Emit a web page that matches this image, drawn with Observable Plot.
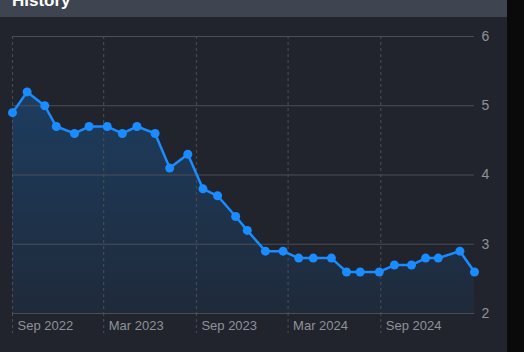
<!DOCTYPE html>
<html>
<head>
<meta charset="utf-8">
<script src="https://cdn.jsdelivr.net/npm/d3@7"></script>
<script src="https://cdn.jsdelivr.net/npm/@observablehq/plot@0.6"></script>
<style>
  html, body { margin: 0; padding: 0; background: #0a0a0a; width: 524px; height: 352px; overflow: hidden; }
  #wrap { position: absolute; left: 0; top: 0; width: 507px; height: 352px; background: #21242c; }
  #header { position: absolute; left: 0; top: 0; width: 507px; height: 17px; background: #3e4550; overflow: hidden; }
  #title { position: absolute; left: 12px; top: -9px; font: bold 17px "Liberation Sans", "DejaVu Sans", sans-serif; color: #ffffff; line-height: 20px; }
  #chart { position: absolute; left: 0; top: 17px; }
</style>
</head>
<body>
<div id="wrap">
  <div id="header"><div id="title">History</div></div>
  <div id="chart"></div>
</div>
<script>
const dates = ["2022-09-01","2022-09-30","2022-11-04","2022-11-27","2023-01-02","2023-01-31","2023-03-08","2023-04-07","2023-05-06","2023-06-11","2023-07-10","2023-08-15","2023-09-14","2023-10-13","2023-11-18","2023-12-11","2024-01-16","2024-02-20","2024-03-22","2024-04-20","2024-05-26","2024-06-25","2024-07-22","2024-08-29","2024-09-28","2024-11-01","2024-11-29","2024-12-24","2025-02-05","2025-03-06"];
const values = [4.9,5.2,5.0,4.7,4.6,4.7,4.7,4.6,4.7,4.6,4.1,4.3,3.8,3.7,3.4,3.2,2.9,2.9,2.8,2.8,2.8,2.6,2.6,2.6,2.7,2.7,2.8,2.8,2.9,2.6];
const xTicks = ["2022-09-01","2023-03-01","2023-09-01","2024-03-01","2024-09-01"];
const xTickLabels = ["Sep 2022","Mar 2023","Sep 2023","Mar 2024","Sep 2024"];
const yTicks = [2,3,4,5,6];

const data = dates.map((d, i) => ({date: new Date(d + "T00:00:00Z"), value: values[i]}));
const tickDates = xTicks.map(d => new Date(d + "T00:00:00Z"));
const labelOf = new Map(tickDates.map((d, i) => [+d, xTickLabels[i]]));

const fontFamily = '"Liberation Sans", "DejaVu Sans", sans-serif';

const plot = Plot.plot({
  width: 507,
  height: 335,
  marginLeft: 12,
  marginRight: 33,
  marginTop: 19,
  marginBottom: 39,
  style: {background: "transparent", fontFamily, fontSize: "13px", color: "#8e9299"},
  x: {type: "utc", domain: [tickDates[0], new Date("2025-03-06T00:00:00Z")]},
  y: {domain: [2, 6]},
  marks: [
    Plot.areaY(data, {x: "date", y1: 2, y2: "value", fill: "url(#areaGrad)", curve: "linear"}),
    Plot.gridY(yTicks, {stroke: "#4a4f57", strokeOpacity: 1, strokeWidth: 1}),
    Plot.gridX(tickDates, {stroke: "#4a4f57", strokeOpacity: 1, strokeDasharray: "3,3"}),
    Plot.axisX(tickDates, {tickSize: 20, stroke: "#4a4f57", strokeDasharray: "3,3", text: null, label: null}),
    Plot.axisX(tickDates, {tickSize: 0, tickPadding: 7, textAnchor: "start", dx: 5, tickFormat: d => labelOf.get(+d), fill: "#8e9299", fontSize: 13, label: null}),
    Plot.axisY(yTicks, {anchor: "right", tickSize: 0, tickPadding: 7, tickFormat: d => String(d), fill: "#8e9299", fontSize: 14, label: null}),
    Plot.lineY(data, {x: "date", y: "value", stroke: "#1a8cff", strokeWidth: 2.5}),
    Plot.dot(data, {x: "date", y: "value", fill: "#1a8cff", r: 4.5})
  ]
});

const svg = d3.select(plot);
const defs = svg.insert("defs", ":first-child");
const g = defs.append("linearGradient").attr("id", "areaGrad").attr("x1", 0).attr("y1", 0).attr("x2", 0).attr("y2", 1);
g.append("stop").attr("offset", "0%").attr("stop-color", "#1d3d60");
g.append("stop").attr("offset", "100%").attr("stop-color", "#1f2a3a");

document.getElementById("chart").appendChild(plot);
</script>
</body>
</html>
